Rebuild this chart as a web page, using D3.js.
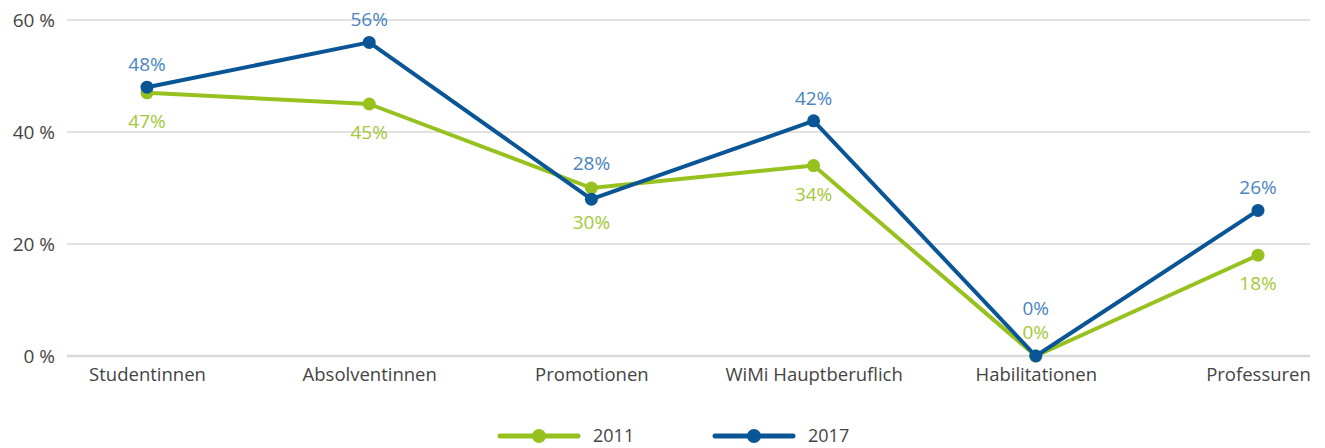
<!DOCTYPE html>
<html>
<head>
<meta charset="utf-8">
<script src="https://cdn.jsdelivr.net/npm/d3@7"></script>
<style>
  body { margin: 0; background: #fff; }
  svg { font-family: "Open Sans", "Noto Sans", sans-serif; }
</style>
</head>
<body>
<div id="chart"></div>
<script>
'use strict';

var categories = ['Studentinnen', 'Absolventinnen', 'Promotionen', 'WiMi Hauptberuflich', 'Habilitationen', 'Professuren'];
var values2011 = [47, 45, 30, 34, 0, 18];
var values2017 = [48, 56, 28, 42, 0, 26];
var yTicks = [0, 20, 40, 60];

var width = 1325;
var height = 448;

var svg = d3.select('#chart').append('svg')
	.attr('width', width)
	.attr('height', height);

var x = d3.scalePoint()
	.domain(categories)
	.range([147, 1258]);

var y = d3.scaleLinear()
	.domain([0, 60])
	.range([356, 20]);

var gridLeft = 67;
var gridRight = 1310;

// grid
svg.append('g')
	.selectAll('line')
	.data(yTicks)
	.enter()
	.append('line')
	.attr('x1', gridLeft)
	.attr('x2', gridRight)
	.attr('y1', function(d){ return y(d); })
	.attr('y2', function(d){ return y(d); })
	.attr('stroke', '#d9d9d9')
	.attr('stroke-width', function(d){ return d === 0 ? 2.5 : 1.5; });

// y axis labels
var yAxis = d3.axisLeft(y)
	.tickValues(yTicks)
	.tickSize(0)
	.tickPadding(0)
	.tickFormat(function(d){ return d + ' %'; });

svg.append('g')
	.attr('transform', 'translate(55,0)')
	.call(yAxis)
	.call(function(g){ g.select('.domain').remove(); })
	.selectAll('text')
	.attr('font-size', 19)
	.attr('fill', '#444')
	.attr('font-family', '"Open Sans", "Noto Sans", sans-serif');

// x axis labels
var xAxis = d3.axisBottom(x).tickSize(0).tickPadding(0);

svg.append('g')
	.attr('transform', 'translate(0,368)')
	.call(xAxis)
	.call(function(g){ g.select('.domain').remove(); })
	.selectAll('text')
	.attr('font-size', 18.5)
	.attr('fill', '#444')
	.attr('font-family', '"Open Sans", "Noto Sans", sans-serif');

var series = [
	{ name: '2011', values: values2011, color: '#97c11f', labelColor: '#a3c93a' },
	{ name: '2017', values: values2017, color: '#0a5596', labelColor: '#4a84bf' }
];

var line = d3.line()
	.x(function(d, i){ return x(categories[i]); })
	.y(function(d){ return y(d); });

series.forEach(function(s){
	var g = svg.append('g');

	g.append('path')
		.datum(s.values)
		.attr('d', line)
		.attr('fill', 'none')
		.attr('stroke', s.color)
		.attr('stroke-width', 4)
		.attr('stroke-linejoin', 'round');

	g.selectAll('circle')
		.data(s.values)
		.enter()
		.append('circle')
		.attr('cx', function(d, i){ return x(categories[i]); })
		.attr('cy', function(d){ return y(d); })
		.attr('r', 6.5)
		.attr('fill', s.color);
});

// data labels: 2017 above its point, 2011 below, nudged when the points are close
function labelY(s, i){
	var d = s.values[i];
	var other = s.name === '2011' ? values2017[i] : values2011[i];
	var gap = Math.abs(y(d) - y(other));
	if (d === 0 && other === 0) {
		return s.name === '2011' ? y(d) - 24 + 7 : y(d) - 48 + 7;
	}
	if (s.name === '2017') {
		var up = y(d) - 23;
		if (gap < 15 && d < other) up = y(d) - 36;
		return up + 7;
	}
	var down = y(d) + 28;
	if (gap < 15 && d > other) down = y(d) + 34;
	return down + 7;
}

series.forEach(function(s){
	svg.append('g')
		.selectAll('text')
		.data(s.values)
		.enter()
		.append('text')
		.attr('x', function(d, i){ return x(categories[i]); })
		.attr('y', function(d, i){ return labelY(s, i); })
		.attr('text-anchor', 'middle')
		.attr('font-size', 19)
		.attr('fill', s.labelColor)
		.text(function(d){ return d + '%'; });
});

// legend
var legend = svg.append('g').attr('transform', 'translate(0,436)');
var legendX = [500, 715];

series.forEach(function(s, i){
	var lg = legend.append('g').attr('transform', 'translate(' + legendX[i] + ',0)');
	lg.append('line')
		.attr('x1', 0)
		.attr('x2', 78)
		.attr('stroke', s.color)
		.attr('stroke-width', 5)
		.attr('stroke-linecap', 'round');
	lg.append('circle')
		.attr('cx', 39)
		.attr('r', 7)
		.attr('fill', s.color);
	lg.append('text')
		.attr('x', 93)
		.attr('dy', '0.35em')
		.attr('font-size', 18)
		.attr('fill', '#444')
		.text(s.name);
});
</script>
</body>
</html>
